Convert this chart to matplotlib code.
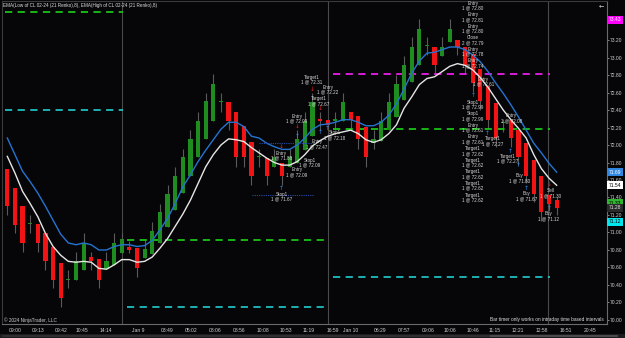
import matplotlib
matplotlib.use("Agg")
import matplotlib.pyplot as plt
import matplotlib.transforms as mtransforms
from matplotlib.patches import Rectangle
import numpy as np

plt.rcParams['font.family'] = ['Liberation Sans', 'DejaVu Sans']

# ---------------- data ----------------
opens = [71.72, 71.51, 71.30, 71.10, 71.10, 70.99, 70.83, 70.65, 70.46, 70.46,
         70.57, 70.72, 70.70, 70.58, 70.63, 70.76, 70.83, 70.82, 70.71, 70.75,
         70.88, 71.06, 71.26, 71.45, 71.65, 71.86, 72.07, 72.28, 72.49, 72.49,
         72.38, 72.22, 72.04, 71.86, 71.85, 71.75, 71.80, 71.75, 71.80, 71.94,
         72.10, 72.30, 72.29, 72.28, 72.28, 72.38, 72.33, 72.21, 72.02, 72.05,
         72.17, 72.32, 72.51, 72.72, 72.92, 73.13, 73.12, 73.02, 73.18, 73.20,
         73.12, 73.04, 72.87, 72.67, 72.48, 72.25, 72.29, 72.17, 72.02, 71.83,
         71.64, 71.43, 71.37]
highs = [71.72, 71.51, 71.30, 71.20, 71.10, 70.99, 70.83, 70.65, 70.57, 70.78,
         70.99, 70.78, 70.70, 70.78, 70.99, 70.99, 70.90, 70.82, 70.91, 71.12,
         71.33, 71.54, 71.75, 71.96, 72.17, 72.38, 72.60, 72.81, 72.60, 72.49,
         72.38, 72.22, 72.04, 71.96, 71.85, 71.96, 71.80, 71.96, 72.17, 72.38,
         72.59, 72.38, 72.29, 72.38, 72.60, 72.38, 72.33, 72.21, 72.17, 72.38,
         72.60, 72.80, 73.02, 73.23, 73.44, 73.23, 73.12, 73.23, 73.44, 73.20,
         73.12, 73.04, 72.87, 72.67, 72.48, 72.30, 72.29, 72.17, 72.02, 71.83,
         71.64, 71.43, 71.40]
lows = [71.20, 70.99, 70.78, 70.99, 70.78, 70.57, 70.36, 70.15, 70.36, 70.46,
        70.57, 70.57, 70.36, 70.58, 70.63, 70.76, 70.76, 70.49, 70.71, 70.75,
        70.88, 71.06, 71.26, 71.45, 71.65, 71.86, 72.07, 72.28, 72.38, 72.17,
        71.75, 71.75, 71.54, 71.75, 71.54, 71.75, 71.54, 71.75, 71.80, 71.94,
        72.10, 72.17, 72.17, 72.17, 72.28, 72.17, 71.96, 71.75, 71.96, 72.05,
        72.17, 72.32, 72.51, 72.72, 72.92, 73.03, 72.81, 73.02, 73.18, 73.03,
        72.81, 72.61, 72.40, 72.18, 71.98, 72.15, 71.98, 71.77, 71.56, 71.35,
        71.13, 71.25, 71.20]
closes = [71.30, 71.09, 70.88, 71.10, 70.88, 70.67, 70.46, 70.25, 70.46, 70.67,
          70.88, 70.67, 70.46, 70.67, 70.88, 70.92, 70.80, 70.59, 70.81, 71.02,
          71.23, 71.44, 71.65, 71.86, 72.07, 72.28, 72.50, 72.70, 72.49, 72.28,
          71.86, 71.86, 71.65, 71.86, 71.65, 71.86, 71.65, 71.86, 72.07, 72.28,
          72.49, 72.28, 72.23, 72.28, 72.49, 72.29, 72.07, 71.86, 72.07, 72.28,
          72.49, 72.70, 72.91, 73.12, 73.33, 73.13, 72.91, 73.12, 73.33, 73.12,
          72.91, 72.71, 72.50, 72.29, 72.08, 72.25, 72.08, 71.86, 71.65, 71.44,
          71.23, 71.32, 71.28]

ema_high = [72.08, 71.89, 71.70, 71.58, 71.45, 71.30, 71.14, 70.98, 70.88, 70.86,
            70.88, 70.86, 70.80, 70.80, 70.84, 70.86, 70.86, 70.84, 70.85, 70.91,
            71.03, 71.16, 71.33, 71.52, 71.66, 71.81, 71.94, 72.06, 72.18, 72.26,
            72.26, 72.21, 72.10, 72.08, 72.02, 71.98, 71.95, 71.95, 72.00, 72.08,
            72.18, 72.23, 72.24, 72.26, 72.29, 72.29, 72.26, 72.22, 72.22, 72.26,
            72.34, 72.47, 72.64, 72.82, 72.96, 73.05, 73.06, 73.09, 73.12, 73.12,
            73.09, 73.03, 72.95, 72.84, 72.71, 72.59, 72.46, 72.32, 72.17, 72.02,
            71.91, 71.79, 71.69]
ema_low = [71.87, 71.68, 71.47, 71.33, 71.18, 70.99, 70.84, 70.74, 70.67, 70.66,
           70.67, 70.66, 70.59, 70.58, 70.63, 70.69, 70.69, 70.66, 70.67, 70.72,
           70.82, 70.93, 71.07, 71.21, 71.37, 71.56, 71.75, 71.89, 72.00, 72.07,
           72.06, 72.04, 71.97, 71.91, 71.85, 71.80, 71.77, 71.77, 71.81, 71.89,
           71.99, 72.05, 72.10, 72.13, 72.15, 72.17, 72.13, 72.06, 72.03, 72.06,
           72.13, 72.23, 72.42, 72.55, 72.69, 72.76, 72.78, 72.84, 72.90, 72.93,
           72.91, 72.86, 72.77, 72.66, 72.53, 72.40, 72.29, 72.19, 72.08, 71.89,
           71.73, 71.62, 71.54]

time_labels = ["09:00", "09:13", "09:42", "10:45", "14:14", "Jan 9", "03:49", "05:02",
               "08:06", "08:56", "10:08", "10:53", "11:19", "16:59", "Jan 10", "06:29",
               "07:57", "09:06", "10:06", "10:46", "11:15", "12:21", "12:58", "16:51", "20:45"]
time_pos = [1.0, 4.0, 7.0, 9.75, 12.9, 17.1, 20.9, 24.1, 27.2, 30.4, 33.5, 36.5, 39.5,
            42.7, 45.0, 48.8, 52.0, 55.1, 58.0, 61.0, 63.9, 66.9, 70.1, 73.2, 76.4]

price_ticks = [70.0, 70.2, 70.4, 70.6, 70.8, 71.0, 71.2, 71.4, 71.6, 71.8,
               72.0, 72.2, 72.4, 72.6, 72.8, 73.0, 73.2]

session_breaks = [15.03, 42.03, 70.87]

# horizontal dashed levels
level_prices = [73.52, 72.40, 70.91, 70.15, 72.81, 72.18, 70.49]
level_start = [-0.3, -0.3, 15.7, 15.7, 42.7, 42.7, 42.7]
level_end = [15.2, 15.2, 42.2, 42.2, 71.1, 71.1, 71.1]
level_colors = ["#19c319", "#1fbfbf", "#19c319", "#1fbfbf", "#e81ee8", "#19c319", "#1fbfbf"]

# trade annotations (bar index, price, text)
trade_x = [39.9, 42.0, 40.85, 37.97, 42.9, 40.6, 35.9, 39.6, 37.97, 36.0,
           61.03, 61.03, 61.03, 61.03, 61.03, 61.03, 62.4, 61.03, 61.03, 61.03,
           61.03, 61.03, 61.03, 61.03, 61.03, 61.03, 63.6, 66.1, 65.6, 67.1,
           68.1, 71.2, 70.99]
trade_y = [72.745, 72.635, 72.500, 72.303, 72.110, 72.010, 71.880, 71.800, 71.690, 71.411,
           73.594, 73.459, 73.331, 73.198, 73.068, 72.934, 72.726, 72.463, 72.331, 72.200,
           72.065, 71.931, 71.800, 71.665, 71.535, 71.400, 72.046, 72.308, 71.845, 71.619,
           71.417, 71.451, 71.188]
trade_text = ["Target1\n1 @ 72.31", "Entry\n1 @ 72.22", "Target1\n1 @ 72.67", "Entry\n1 @ 72.09",
              "Stop1\n1 @ 72.18", "Entry\n1 @ 72.47", "Entry\n1 @ 71.88", "Stop1\n1 @ 72.09",
              "Entry\n1 @ 72.09", "Stop1\n1 @ 71.67",
              "Entry\n1 @ 72.80", "Entry\n1 @ 72.81", "Entry\n1 @ 72.80", "Close\n2 @ 72.79",
              "Entry\n1 @ 72.78", "Entry\n1 @ 72.74", "Entry\n1 @ 72.61", "Stop1\n1 @ 72.99",
              "Stop1\n1 @ 72.99", "Entry\n1 @ 72.61", "Entry\n1 @ 72.61", "Target1\n1 @ 72.62",
              "Target1\n1 @ 72.62", "Target1\n1 @ 72.62", "Target1\n1 @ 72.62", "Target1\n1 @ 72.62",
              "Target1\n1 @ 72.27", "Entry\n1 @ 72.08", "Target1\n1 @ 72.27", "Buy\n1 @ 71.80",
              "Buy\n1 @ 71.67", "Sell\n1 @ 71.30", "Buy\n1 @ 71.12"]

buy_x = [37.97, 35.96, 40.98, 41.99, 61.0, 62.96, 65.88, 66.93, 67.98, 70.96]
buy_y = [72.095, 71.505, 72.14, 72.19, 72.563, 72.134, 71.923, 71.771, 71.508, 71.276]
sell_x = [37.97, 35.87, 39.93, 40.98, 70.96]
sell_y = [72.209, 71.98, 72.64, 72.423, 71.554]

trade_line_y = [72.019, 71.428]
trade_line_x0 = [33.0, 32.1]
trade_line_x1 = [40.3, 40.2]

tag_prices = [73.43, 71.69, 71.54, 71.33, 71.28, 71.12]
tag_texts = ["73.43", "71.69", "71.54", "71.33", "71.28", "71.12"]
tag_bg = ["#ff00ff", "#2f86e0", "#ffffff", "#2fb52f", "#2a2a2a", "#00e6ee"]
tag_fg = ["#ffffff", "#ffffff", "#000000", "#000000", "#e0e0e0", "#000000"]

# ---------------- figure ----------------
BG = "#060608"
fig = plt.figure(figsize=(6.25, 3.38), dpi=100, facecolor=BG)
W, H = 625.0, 338.0
ax = fig.add_axes([2 / W, 1 - 324 / H, 605 / W, 323 / H], facecolor=BG)

n = len(closes)
x = np.arange(n)
o = np.array(opens); c = np.array(closes); hi = np.array(highs); lo = np.array(lows)

ax.vlines(x, lo, hi, color="#5a5a5a", lw=0.8, zorder=2)
up = c >= o
body_h = np.maximum(np.abs(c - o), 0.012)
body_b = np.minimum(o, c)
ax.bar(x[up], body_h[up], bottom=body_b[up], width=0.55, color="#1e8c1e", zorder=3, linewidth=0)
ax.bar(x[~up], body_h[~up], bottom=body_b[~up], width=0.55, color="#f21414", zorder=3, linewidth=0)

ax.plot(x, ema_high, color="#2474d0", lw=1.0, zorder=4)
ax.plot(x, ema_low, color="#e6e6e6", lw=1.0, zorder=4)

for p, s, e, col in zip(level_prices, level_start, level_end, level_colors):
    ax.hlines(p, s, e, colors=col, linestyles=(0, (4, 3)), lw=1.3, zorder=2)

for sb in session_breaks:
    ax.axvline(sb, color="#4a4a4a", lw=0.8, zorder=1)

for y0, a, b in zip(trade_line_y, trade_line_x0, trade_line_x1):
    ax.hlines(y0, a, b, colors="#2a4aa8", linestyles=(0, (1, 1)), lw=0.8, zorder=4)

for tx, ty, tt in zip(trade_x, trade_y, trade_text):
    ax.text(tx, ty, tt, fontsize=3.3, color="#d8d8d8", ha="center", va="center",
            linespacing=0.95, zorder=6)

for bx, by in zip(buy_x, buy_y):
    ax.text(bx, by, "\u2191", fontsize=4.2, color="#2f8ff0", ha="center", va="center",
            family="DejaVu Sans", zorder=6)
for sx, sy in zip(sell_x, sell_y):
    ax.text(sx, sy, "\u2193", fontsize=4.2, color="#f02020", ha="center", va="center",
            family="DejaVu Sans", zorder=6)

ax.set_xlim(-0.695, 78.6)
ax.set_ylim(69.954, 73.646)

for side in ["top", "left"]:
    ax.spines[side].set_color("#3a3a3a")
    ax.spines[side].set_linewidth(0.8)
for side in ["right", "bottom"]:
    ax.spines[side].set_color("#6a6a6a")
    ax.spines[side].set_linewidth(0.8)

ax.set_xticks(time_pos)
ax.set_xticklabels(time_labels)
ax.tick_params(axis="x", length=0, pad=3.0, labelsize=3.6, labelcolor="#d0d0d0")

ax.yaxis.tick_right()
ax.set_yticks(price_ticks)
ax.set_yticklabels([f"{v:.2f}" for v in price_ticks])
ax.tick_params(axis="y", length=1.5, width=0.6, color="#9a9a9a", pad=0.8,
               labelsize=3.6, labelcolor="#d0d0d0")

trans = mtransforms.blended_transform_factory(ax.transAxes, ax.transData)
for p, t, bgc, fgc in zip(tag_prices, tag_texts, tag_bg, tag_fg):
    ax.text(1.0 + 1.5 / 605, p, t, transform=trans, fontsize=3.6, color=fgc,
            ha="left", va="center", clip_on=False, zorder=10,
            bbox=dict(boxstyle="square,pad=0.35", fc=bgc, ec="none"))

fig.text(3 / W, 1 - 6 / H, "EMA(Low of CL 02-24 (21 Renko),8), EMA(High of CL 02-24 (21 Renko),8)",
         fontsize=3.3, color="#e0e0e0", ha="left", va="center")
fig.text(4 / W, 1 - 320 / H, "\u00a9 2024 NinjaTrader, LLC", fontsize=3.4, color="#d0d0d0",
         ha="left", va="center")
fig.text(604 / W, 1 - 319 / H, "Bar timer only works on intraday time based intervals",
         fontsize=3.4, color="#e0e0e0", ha="right", va="center")
fig.text(601 / W, 1 - 6 / H, "\u2190", fontsize=4.5, color="#e0e0e0", ha="center", va="center",
         family="DejaVu Sans")

fig.patches.append(Rectangle((0, 0), 1, 4 / H, transform=fig.transFigure, fc="#1c1c1e", ec="none"))
fig.patches.append(Rectangle((2 / W, 1 / H), 604 / W, 2.5 / H, transform=fig.transFigure,
                             fc="#2e2e30", ec="none"))
fig.patches.append(Rectangle((490 / W, 1 / H), 128 / W, 2.5 / H, transform=fig.transFigure,
                             fc="#4a4a4c", ec="none"))

fig.savefig("out.png", dpi=100, facecolor=BG)
